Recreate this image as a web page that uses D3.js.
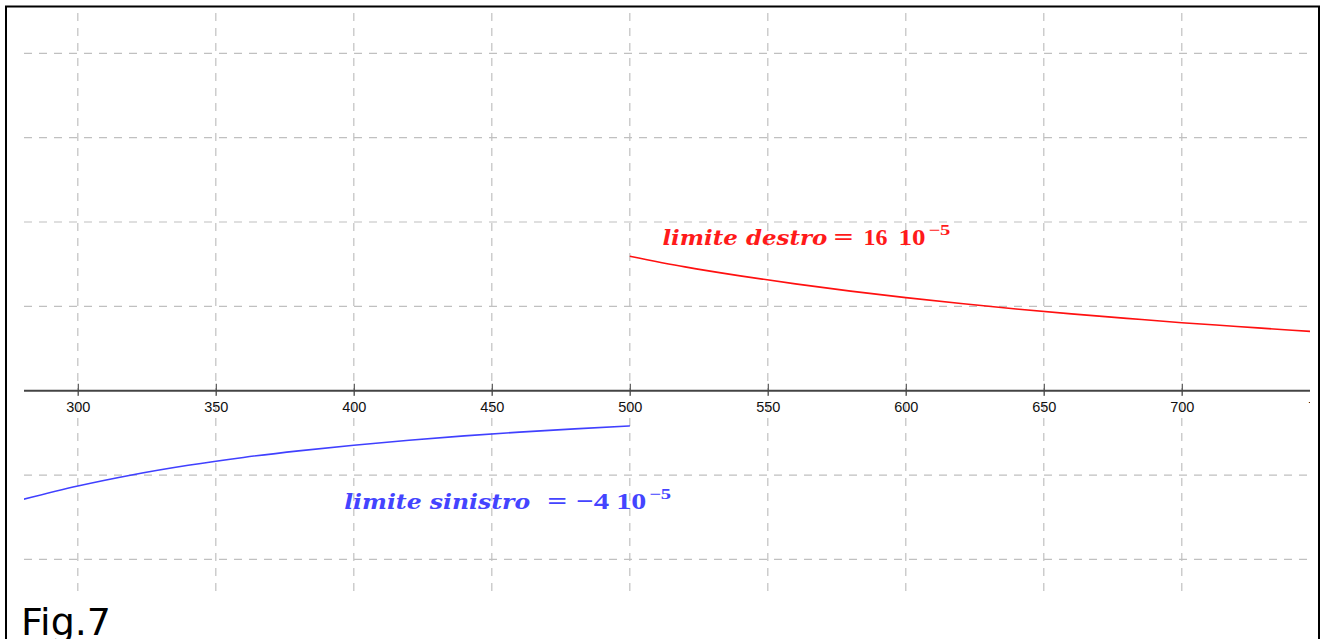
<!DOCTYPE html>
<html>
<head>
<meta charset="utf-8">
<script src="https://cdn.jsdelivr.net/npm/d3@7"></script>
<style>
  html, body { margin: 0; padding: 0; background: #fff; }
  svg { display: block; }
</style>
</head>
<body>
<svg id="chart" width="1320" height="639"></svg>
<script>
// x-axis tick labels
const xTicks = [300, 350, 400, 450, 500, 550, 600, 650, 700, 750];
// horizontal grid levels (grid units)
const yGrid = [-2, -1, 1, 2, 3, 4];

// left branch (x < 500)
const leftX = [280, 300, 320, 340, 360, 380, 400, 420, 440, 460, 480, 500];
const leftY = [-1.29, -1.13, -0.996, -0.884, -0.791, -0.713, -0.647, -0.587, -0.536, -0.491, -0.452, -0.417];

// right branch (x > 500)
const rightX = [500, 520, 540, 560, 580, 600, 620, 640, 660, 680, 700, 720, 740, 750];
const rightY = [1.595, 1.468, 1.361, 1.266, 1.18, 1.103, 1.033, 0.969, 0.911, 0.858, 0.806, 0.762, 0.716, 0.697];

const svg = d3.select("#chart");

// plot area
const pLeft = 24, pRight = 1310, pTop = 8, pBottom = 595;
const x = d3.scaleLinear().domain([280.5, 746.45]).range([pLeft, pRight]);
const y = d3.scaleLinear().domain([-2.422, 4.537]).range([pBottom, pTop]);

svg.append("defs").append("clipPath").attr("id", "plotClip")
  .append("rect").attr("x", pLeft).attr("y", pTop)
  .attr("width", pRight - pLeft).attr("height", pBottom - pTop);

const plot = svg.append("g").attr("clip-path", "url(#plotClip)");

// dashed grid
plot.append("g").selectAll("line").data(xTicks).join("line")
  .attr("x1", d => x(d)).attr("x2", d => x(d))
  .attr("y1", pTop + 5).attr("y2", pBottom - 2)
  .attr("stroke", "#c0c0c0").attr("stroke-width", 1.2)
  .attr("stroke-dasharray", "8,7");

plot.append("g").selectAll("line").data(yGrid).join("line")
  .attr("x1", pLeft).attr("x2", pRight)
  .attr("y1", d => y(d)).attr("y2", d => y(d))
  .attr("stroke", "#c0c0c0").attr("stroke-width", 1.2)
  .attr("stroke-dasharray", "8,7");

// x axis with ticks crossing the line
const axisG = plot.append("g").attr("transform", `translate(0,${y(0)})`);
axisG.call(d3.axisBottom(x).tickValues(xTicks).tickSize(0).tickPadding(11).tickFormat(d3.format("d")));
axisG.select(".domain").remove();
axisG.append("line").attr("x1", pLeft).attr("x2", pRight)
  .attr("stroke", "#444").attr("stroke-width", 2);
axisG.selectAll(".tick").append("line")
  .attr("y1", -7).attr("y2", 5)
  .attr("stroke", "#555").attr("stroke-width", 1.2);
axisG.selectAll(".tick text")
  .attr("font-family", "Liberation Sans, Arial, sans-serif")
  .attr("font-size", 14.5).attr("fill", "#111");

// curves
const line = d3.line().x(d => x(d[0])).y(d => y(d[1])).curve(d3.curveMonotoneX);
plot.append("path").datum(d3.zip(leftX, leftY)).attr("d", line)
  .attr("fill", "none").attr("stroke", "#4040ff").attr("stroke-width", 1.6);
plot.append("path").datum(d3.zip(rightX, rightY)).attr("d", line)
  .attr("fill", "none").attr("stroke", "#ff1010").attr("stroke-width", 1.6);

// annotations: pieces laid out as [text, dx, width, italic, superscript]
const destroParts = [
  ["limite destro", 0, 165, true, false],
  ["=", 171, 20, false, false],
  ["16", 201, 24, false, false],
  ["10", 236, 27, false, false],
  ["\u22125", 266, 22, false, true]
];
const sinistroParts = [
  ["limite sinistro", 0, 186, true, false],
  ["=", 203, 20, false, false],
  ["\u22124", 232, 33, false, false],
  ["10", 272, 30, false, false],
  ["\u22125", 305, 22, false, true]
];

function mathLabel(px, py, color, parts) {
  const g = svg.append("g")
    .attr("transform", `translate(${x(px)},${y(py)})`)
    .attr("fill", color).attr("font-weight", "bold");
  parts.forEach(([txt, dx, w, italic, sup]) => {
    g.append("text")
      .attr("x", dx).attr("y", sup ? -10 : 0)
      .attr("font-family", italic ? "DejaVu Serif, serif" : "Liberation Serif, DejaVu Serif, serif")
      .attr("font-style", italic ? "italic" : "normal")
      .attr("font-size", sup ? 15 : (italic ? 21 : 24))
      .attr("textLength", w).attr("lengthAdjust", "spacingAndGlyphs")
      .text(txt);
  });
}
mathLabel(511.8, 1.726, "#ff1a1a", destroParts);
mathLabel(396.5, -1.406, "#4444ff", sinistroParts);

// caption
svg.append("text").attr("x", 21).attr("y", 635)
  .attr("font-family", "DejaVu Sans, sans-serif")
  .attr("font-size", 38).attr("fill", "#000").text("Fig.7");

// outer frame
svg.append("path")
  .attr("d", "M6,639 V6.5 H1319 V639")
  .attr("fill", "none").attr("stroke", "#000").attr("stroke-width", 2);
</script>
</body>
</html>
